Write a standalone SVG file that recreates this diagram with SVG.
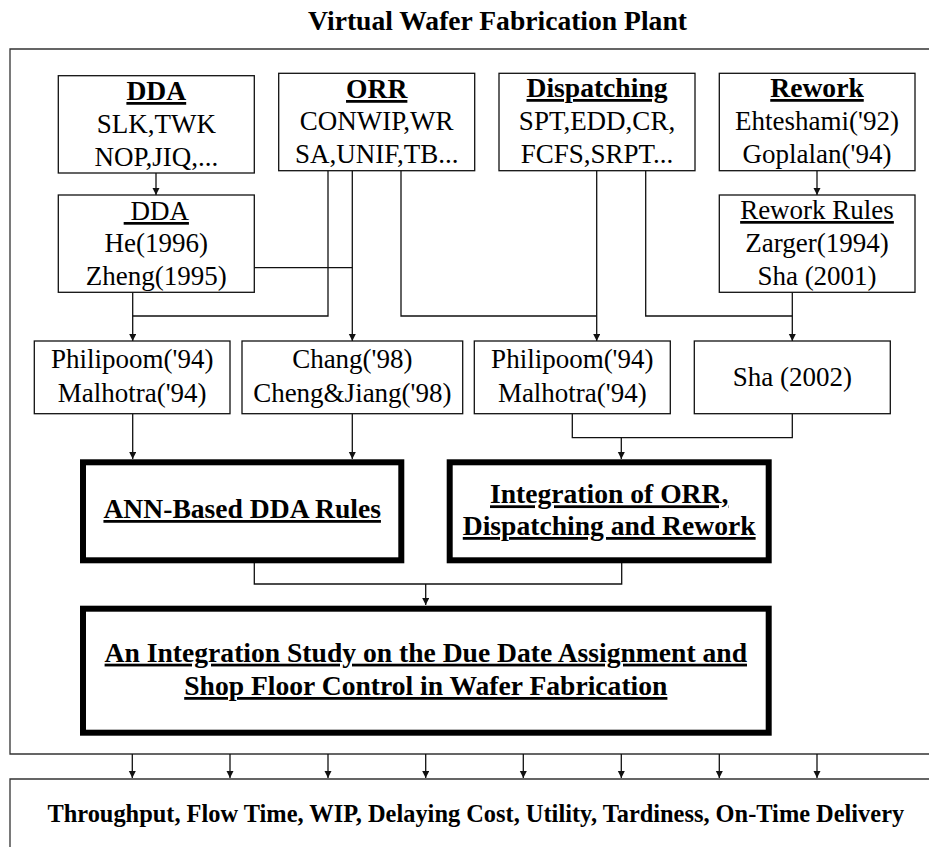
<svg xmlns="http://www.w3.org/2000/svg" width="929" height="847" viewBox="0 0 929 847">
  <style>
    .box { fill: #fff; stroke: #111; stroke-width: 1.3; }
    .thick { fill: #fff; stroke: #000; stroke-width: 6; }
    .frame { fill: none; stroke: #333; stroke-width: 1.3; }
    .wire { fill: none; stroke: #111; stroke-width: 1.3; }
    .arrow { marker-end: url(#head); }
    text { font-family: "Liberation Serif", "Times New Roman", serif; fill: #000; text-anchor: middle; }
    .t { font-size: 27px; }
    .b { font-size: 27.6px; font-weight: bold; }
    .u { text-decoration: underline; }
    .out { font-size: 24.4px; font-weight: bold; }
  </style>
  <defs>
    <marker id="head" markerUnits="userSpaceOnUse" markerWidth="8" markerHeight="8" refX="7" refY="3.5" orient="auto">
      <path d="M0,0 L7,3.5 L0,7 z" fill="#111"/>
    </marker>
  </defs>

  <rect width="929" height="847" fill="#fff"/>

  <!-- plant frame and output band -->
  <text class="b" x="497.5" y="30">Virtual Wafer Fabrication Plant</text>
  <path class="frame" d="M935,49 H10 V754 H935"/>
  <path class="frame" d="M935,779 H10 V860"/>

  <!-- connectors -->
  <g id="connectors">
    <path class="wire arrow" d="M156,173 V195"/>
    <path class="wire arrow" d="M817,171 V195"/>
    <path class="wire" d="M254,267.7 H352.3"/>
    <path class="wire arrow" d="M132.7,292 V341"/>
    <path class="wire" d="M328,171 V316 H132.7"/>
    <path class="wire arrow" d="M352.3,171 V341"/>
    <path class="wire" d="M401,171 V316 H596.7"/>
    <path class="wire arrow" d="M596.7,171 V341"/>
    <path class="wire" d="M645.7,171 V316 H792.3"/>
    <path class="wire arrow" d="M792.3,292 V341"/>
    <path class="wire arrow" d="M132.7,414 V459"/>
    <path class="wire arrow" d="M352.3,414 V459"/>
    <path class="wire" d="M572.3,414 V437.7 H792.3 V414"/>
    <path class="wire arrow" d="M621.3,437.7 V459"/>
    <path class="wire" d="M254.3,563 V584 H621.7 V563"/>
    <path class="wire arrow" d="M425.7,584 V605"/>
    <path class="wire arrow" d="M132.3,754 V778"/>
    <path class="wire arrow" d="M230,754 V778"/>
    <path class="wire arrow" d="M328,754 V778"/>
    <path class="wire arrow" d="M425.7,754 V778"/>
    <path class="wire arrow" d="M523.3,754 V778"/>
    <path class="wire arrow" d="M621.3,754 V778"/>
    <path class="wire arrow" d="M719.3,754 V778"/>
    <path class="wire arrow" d="M817,754 V778"/>
  </g>

  <!-- top row: rule families -->
  <g id="dda-rules">
    <rect class="box" x="58.3" y="75.7" width="196" height="97.3"/>
    <text class="b u" x="156.3" y="100">DDA</text>
    <text class="t" x="156.3" y="133">SLK,TWK</text>
    <text class="t" x="156.3" y="166">NOP,JIQ,...</text>
  </g>
  <g id="orr-rules">
    <rect class="box" x="278.7" y="73.3" width="196" height="97.4"/>
    <text class="b u" x="376.7" y="98">ORR</text>
    <text class="t" x="376.7" y="130">CONWIP,WR</text>
    <text class="t" x="376.7" y="163">SA,UNIF,TB...</text>
  </g>
  <g id="dispatching-rules">
    <rect class="box" x="499" y="73.3" width="196" height="97.4"/>
    <text class="b u" x="597" y="97">Dispatching</text>
    <text class="t" x="597" y="130">SPT,EDD,CR,</text>
    <text class="t" x="597" y="163">FCFS,SRPT...</text>
  </g>
  <g id="rework">
    <rect class="box" x="719.3" y="73.3" width="195.7" height="97.4"/>
    <text class="b u" x="817" y="97">Rework</text>
    <text class="t" x="817" y="130">Ehteshami('92)</text>
    <text class="t" x="817" y="163">Goplalan('94)</text>
  </g>

  <!-- second row -->
  <g id="dda-studies">
    <rect class="box" x="58.3" y="195" width="196" height="97.3"/>
    <text class="t u" x="156.3" y="220" xml:space="preserve"> DDA</text>
    <text class="t" x="156.3" y="252">He(1996)</text>
    <text class="t" x="156.3" y="285">Zheng(1995)</text>
  </g>
  <g id="rework-rules">
    <rect class="box" x="719.3" y="195" width="195.7" height="97.3"/>
    <text class="t u" x="817" y="219">Rework Rules</text>
    <text class="t" x="817" y="252">Zarger(1994)</text>
    <text class="t" x="817" y="285">Sha (2001)</text>
  </g>

  <!-- third row: combined studies -->
  <g id="philipoom-a">
    <rect class="box" x="34.3" y="341" width="195.7" height="72.7"/>
    <text class="t" x="132.2" y="368.3">Philipoom('94)</text>
    <text class="t" x="132.2" y="401.7">Malhotra('94)</text>
  </g>
  <g id="chang">
    <rect class="box" x="242" y="341" width="220.7" height="72.7"/>
    <text class="t" x="352.3" y="368.3">Chang('98)</text>
    <text class="t" x="352.3" y="401.7">Cheng&amp;Jiang('98)</text>
  </g>
  <g id="philipoom-b">
    <rect class="box" x="474.3" y="341" width="196" height="72.7"/>
    <text class="t" x="572.3" y="368.3">Philipoom('94)</text>
    <text class="t" x="572.3" y="401.7">Malhotra('94)</text>
  </g>
  <g id="sha-2002">
    <rect class="box" x="694.3" y="341" width="196" height="72.7"/>
    <text class="t" x="792.3" y="386">Sha (2002)</text>
  </g>

  <!-- research modules -->
  <g id="ann-dda">
    <rect class="thick" x="83" y="462.3" width="318.3" height="98"/>
    <text class="b u" x="242.2" y="518">ANN-Based DDA Rules</text>
  </g>
  <g id="integration">
    <rect class="thick" x="449.7" y="462.3" width="319" height="98"/>
    <text class="b u" x="609.2" y="503.3">Integration of ORR,</text>
    <text class="b u" x="609.2" y="535">Dispatching and Rework</text>
  </g>
  <g id="integration-study">
    <rect class="thick" x="83" y="608.7" width="685.7" height="124"/>
    <text class="b u" x="425.8" y="661.7">An Integration Study on the Due Date Assignment and</text>
    <text class="b u" x="425.8" y="695">Shop Floor Control in Wafer Fabrication</text>
  </g>

  <!-- performance measures -->
  <g id="measures">
    <text class="out" x="475.8" y="821.7">Throughput, Flow Time, WIP, Delaying Cost, Utility, Tardiness, On-Time Delivery</text>
  </g>
</svg>
